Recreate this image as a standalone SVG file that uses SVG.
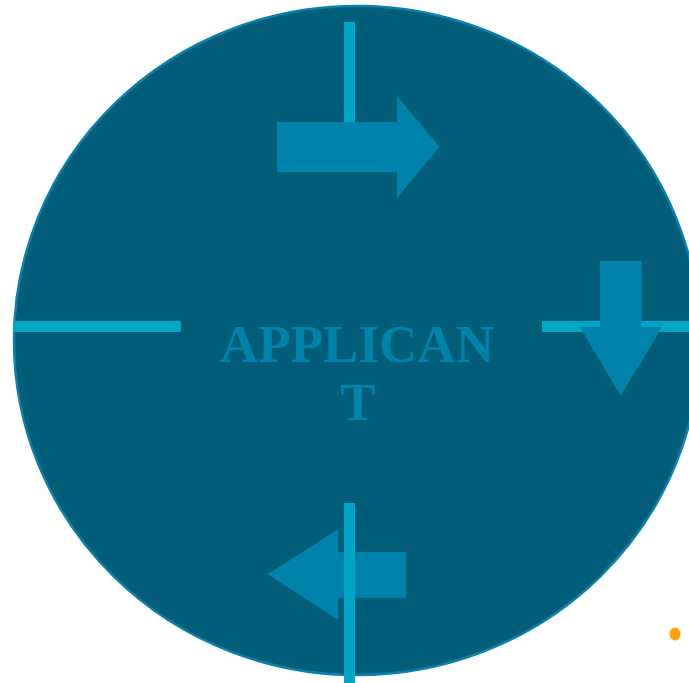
<svg xmlns="http://www.w3.org/2000/svg" width="689" height="683" viewBox="0 0 689 683">
<style>
.bg{fill:#025d79;stroke:#0a80aa;stroke-width:2.5}
.ln{fill:#00a6c3}
.ar{fill:#0083ab}
.lbl{font-family:"Liberation Serif","Times New Roman",serif;font-weight:bold;font-size:53px;fill:#0083ab;text-anchor:middle}
</style>
<rect width="689" height="683" fill="#ffffff"/>
<g id="circle-node">
<ellipse class="bg" cx="357" cy="340.5" rx="343" ry="334.5"/>
<text class="lbl" x="357" y="361.5">APPLICAN</text>
<text class="lbl" x="358" y="419.5">T</text>
</g>
<g id="connectors">
<rect class="ln" x="344" y="22" width="11" height="100"/>
<rect class="ln" x="13" y="321" width="168" height="11"/>
<rect class="ln" x="542" y="321" width="147" height="11"/>
<polygon id="arrow-right" class="ar" points="277,122 397,122 397,96 439.5,146.7 397,198 397,172.3 277,172.3"/>
<polygon id="arrow-down" class="ar" points="600,261 641.7,261 641.7,327 662.3,327 620.7,396 580,327 600,327"/>
<polygon id="arrow-left" class="ar" points="406,552 338.3,552 338.3,529 267.7,574.3 338.3,620 338.3,597.7 406,597.7"/>
<rect class="ln" x="344" y="503" width="11" height="180"/>
</g>
<g id="dot">
<ellipse cx="675" cy="634" rx="5.5" ry="6.5" fill="#ffa500"/>
</g>
</svg>
